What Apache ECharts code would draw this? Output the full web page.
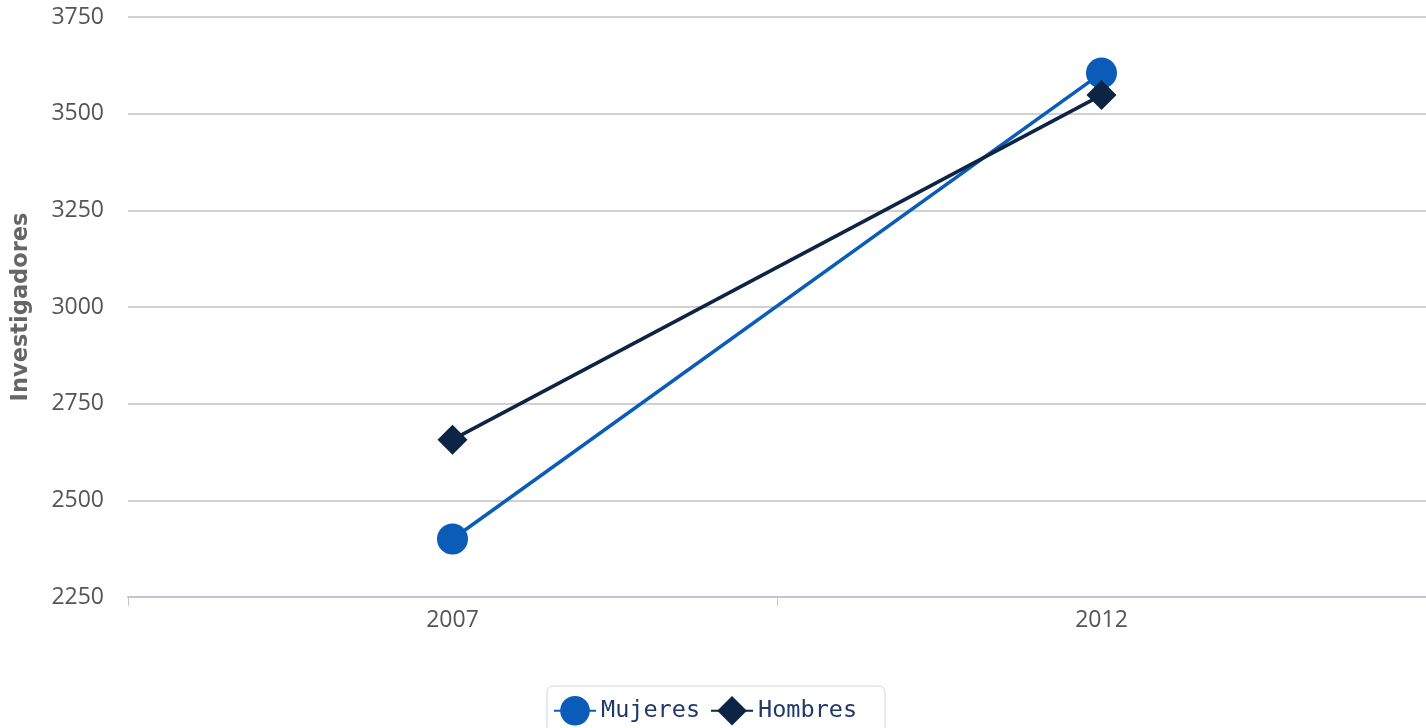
<!DOCTYPE html>
<html><head><meta charset="utf-8">
<script src="https://cdn.jsdelivr.net/npm/echarts@6/dist/echarts.min.js"></script>
<style>html,body{margin:0;padding:0;background:#fff}#c{width:1426px;height:728px}</style>
</head><body><div id="c"></div>
<script>
const categories = ['2007', '2012'];
const mujeres = [2400, 3605];
const hombres = [2657, 3548];
const yTicks = [2250, 2500, 2750, 3000, 3250, 3500, 3750];

const chart = echarts.init(document.getElementById('c'));
chart.setOption({
  animation: false,
  backgroundColor: '#ffffff',
  grid: { left: 128, right: 0, top: 17, bottom: 131, containLabel: false, outerBoundsMode: 'none' },
  legend: {
    top: 686, left: 547,
    data: ['Mujeres', 'Hombres'],
    itemWidth: 42, itemHeight: 37, itemGap: 10,
    padding: [10, 28, 8, 6],
    borderColor: '#d4d4dc', borderWidth: 1, borderRadius: 6,
    textStyle: { fontFamily: 'DejaVu Sans Mono', fontSize: 23.5, color: '#1f3a66' }
  },
  xAxis: {
    type: 'category', data: categories, boundaryGap: true,
    axisLine: { lineStyle: { color: '#c4c4d4', width: 2 } },
    axisTick: { show: true, length: 9, lineStyle: { color: '#c4c4d4', width: 1 } },
    axisLabel: { fontFamily: 'Open Sans', fontSize: 23, color: '#555', margin: 12 }
  },
  yAxis: {
    type: 'value', min: yTicks[0], max: yTicks[yTicks.length - 1], interval: 250,
    name: 'Investigadores', nameLocation: 'middle', nameGap: 95, nameRotate: 90,
    nameTextStyle: { fontFamily: 'DejaVu Sans', fontWeight: 'bold', fontSize: 22.5, color: '#666' },
    axisLine: { show: false }, axisTick: { show: false },
    axisLabel: { fontFamily: 'Open Sans', fontSize: 23, color: '#555', margin: 24, formatter: v => String(v) },
    splitLine: { lineStyle: { color: '#c0c0c0', width: 1.5 } }
  },
  series: [
    {
      name: 'Mujeres', type: 'line', data: mujeres,
      symbol: 'circle', symbolSize: 31,
      lineStyle: { color: '#0b5cb8', width: 3.5 },
      itemStyle: { color: '#0b5cb8' }, z: 3
    },
    {
      name: 'Hombres', type: 'line', data: hombres,
      symbol: 'diamond', symbolSize: [30, 30],
      lineStyle: { color: '#0c2545', width: 3.5 },
      itemStyle: { color: '#0c2545' }, z: 4
    }
  ]
});
</script></body></html>
